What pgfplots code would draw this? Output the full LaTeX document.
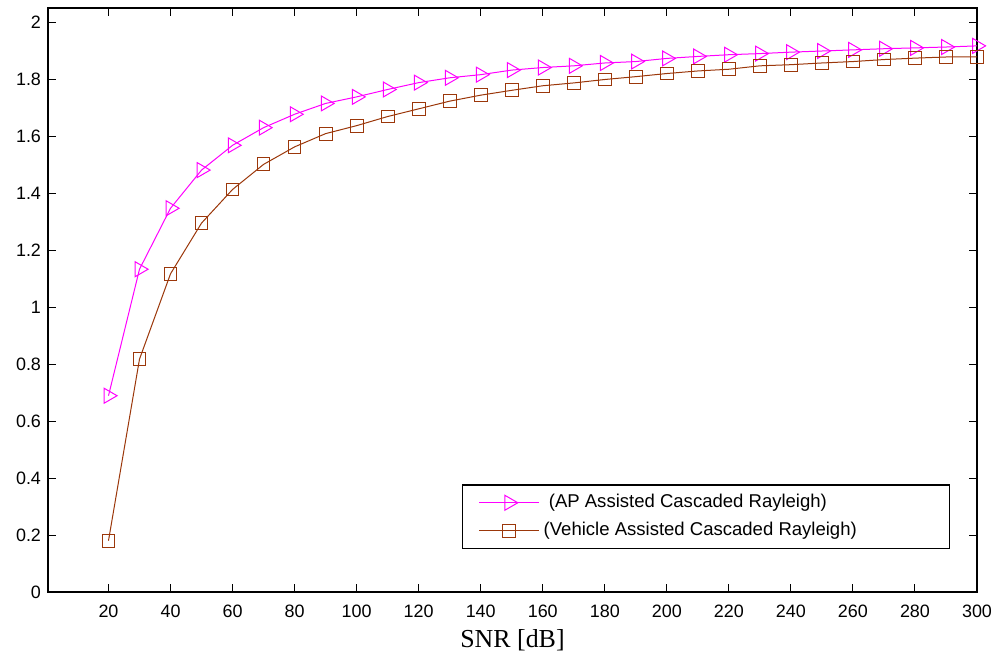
\documentclass[border=0pt]{standalone}
\usepackage{pgfplots}
\pgfplotsset{compat=1.18}
\usepackage{fontspec}
\setmainfont{Liberation Sans}
\newfontfamily\seriffont{Liberation Serif}
\definecolor{apcol}{RGB}{255,0,255}
\definecolor{vehcol}{RGB}{155,55,10}
\begin{document}
\begin{tikzpicture}
\begin{axis}[
  scale only axis, width=464.5bp, height=292bp,
  xmin=0.5, xmax=300, ymin=0, ymax=2.05,
  xtick={20,40,...,300},
  ytick={0,0.2,0.4,0.6,0.8,1,1.2,1.4,1.6,1.8,2},
  tick align=inside, major tick length=4bp,
  axis line style={line width=0.75bp},
  tick style={line width=0.5bp, black},
  tick label style={font=\fontsize{9}{10}\selectfont},
  /pgf/number format/assume math mode=true,
  xticklabel style={yshift=-3bp},
  xlabel={SNR [dB]},
  xlabel style={font=\seriffont\fontsize{13}{14}\selectfont, anchor=base, at={(axis description cs:0.5,-0.0942)}},
  legend style={at={(rel axis cs:0.4456,0.1849)}, anchor=north west, draw=black, line width=0.75bp,
    font=\fontsize{9.3}{11}\selectfont, inner xsep=8bp, inner ysep=2.9bp, row sep=1.8bp,
    cells={anchor=west}},
  legend image code/.code={\draw[mark repeat=2,mark phase=2] plot coordinates {(0bp,0bp)(15bp,0bp)(30bp,0bp)};},
]
\coordinate (sw) at (rel axis cs:0,0);
\coordinate (ne) at (rel axis cs:1,1);
\addplot[color=apcol, line width=0.5bp, mark=triangle, mark size=4.3bp, mark options={solid, rotate=-90}] coordinates {
(20,0.689) (30,1.133) (40,1.347) (50,1.481) (60,1.568) (70,1.630) (80,1.677) (90,1.715)
(100,1.738) (110,1.764) (120,1.788) (130,1.805) (140,1.816) (150,1.832) (160,1.841)
(170,1.847) (180,1.857) (190,1.862) (200,1.873) (210,1.880) (220,1.886) (230,1.890)
(240,1.895) (250,1.899) (260,1.903) (270,1.907) (280,1.910) (290,1.913) (300,1.917)
};
\addlegendentry{\ (AP Assisted Cascaded Rayleigh)}
\addplot[color=vehcol, line width=0.5bp, mark=square, mark size=3.2bp, mark options={solid}] coordinates {
(20,0.180) (30,0.8175) (40,1.117) (50,1.295) (60,1.413) (70,1.501) (80,1.5625) (90,1.609)
(100,1.637) (110,1.669) (120,1.696) (130,1.723) (140,1.744) (150,1.761) (160,1.777)
(170,1.787) (180,1.799) (190,1.809) (200,1.820) (210,1.829) (220,1.835) (230,1.847)
(240,1.851) (250,1.857) (260,1.862) (270,1.869) (280,1.874) (290,1.878) (300,1.878)
};
\addlegendentry{\makebox[193bp][l]{(Vehicle Assisted Cascaded Rayleigh)}}
\end{axis}
\pgfresetboundingbox
\path[use as bounding box] ([xshift=-24bp,yshift=-35.5bp]sw) rectangle ([xshift=12.5bp,yshift=4bp]ne);
\end{tikzpicture}
\end{document}
